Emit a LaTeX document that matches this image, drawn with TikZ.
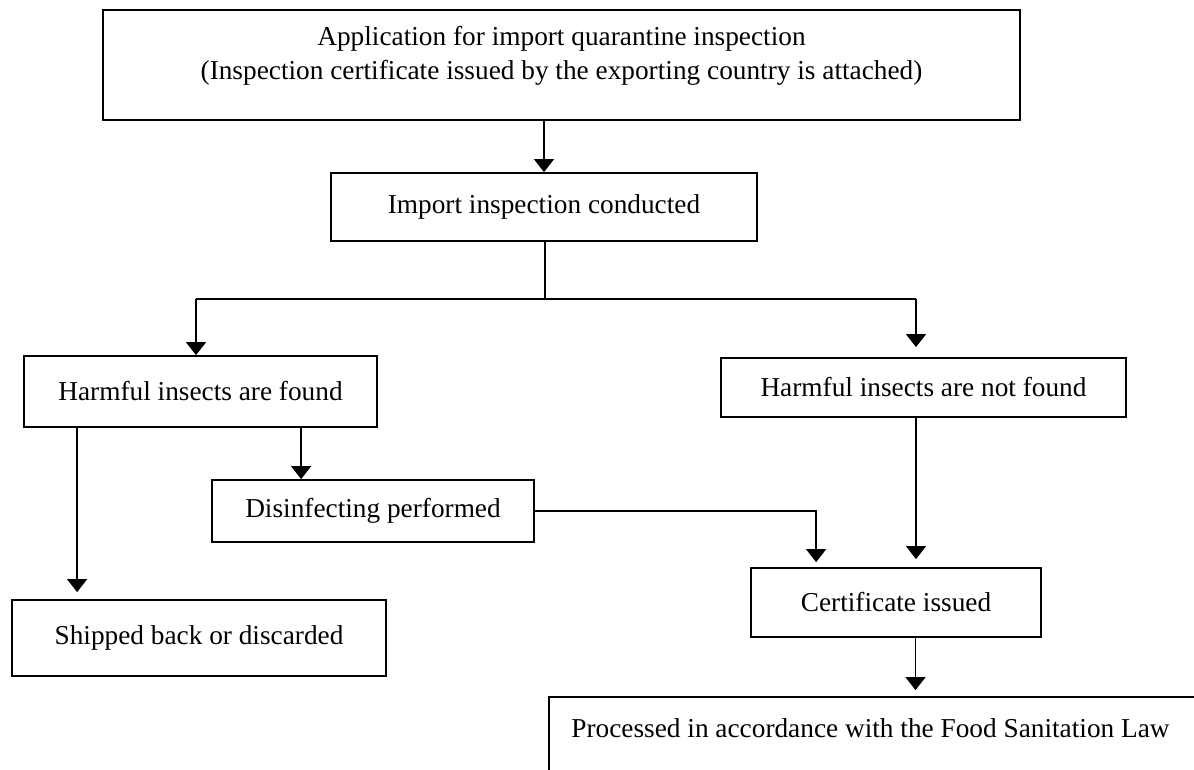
\documentclass[tikz,border=0pt]{standalone}
\usepackage{fontspec}
\setmainfont{Liberation Serif}
\usetikzlibrary{arrows.meta,calc}
\begin{document}
\begin{tikzpicture}[x=1pt,y=-1pt,
  txt/.style={inner sep=0pt, font=\fontsize{27.3}{34}\selectfont},
  box/.style={txt, draw, line width=1.8pt},
  conn/.style={line width=1.3pt},
  arr/.style={conn, -{Triangle[width=20pt,length=13pt]}}
]
\useasboundingbox (0,0) rectangle (1194,769);
\clip (0,0) rectangle (1194,769);
\fill[white] (0,0) rectangle (1194,769);

\node[box, minimum width=917pt, minimum height=110pt] (app) at (561.5,65)
  {\raisebox{0pt}[\height][\dimexpr\depth+18pt\relax]{\begin{tabular}{@{}c@{}}Application for import quarantine inspection\\(Inspection certificate issued by the exporting country is attached)\end{tabular}}};
\node[box, minimum width=426pt, minimum height=68pt] (conducted) at (544,207) {Import inspection conducted};
\node[box, minimum width=353pt, minimum height=71pt] (found) at (200.5,391.5) {Harmful insects are found};
\node[box, minimum width=405pt, minimum height=59pt] (notfound) at (923.5,387.5) {Harmful insects are not found};
\node[box, minimum width=322pt, minimum height=62pt] (disinf) at (373,511) {Disinfecting performed};
\node[box, minimum width=374pt, minimum height=76pt] (shipped) at (199,638) {Shipped back or discarded};
\node[box, minimum width=290pt, minimum height=69pt] (cert) at (896,602.5) {Certificate issued};
\node[box, minimum width=700pt, minimum height=120pt] (final) at (899,757) {};
\node[txt] (finaltext) at (870.5,728) {Processed in accordance with the Food Sanitation Law};

\coordinate (split) at (545,299);
\coordinate (sl) at (196,299);
\coordinate (sr) at (916,299);

\draw[arr] (app.south -| conducted.north) -- (conducted.north);
\draw[conn] (conducted.south -| split) -- (split);
\draw[conn] (sl) -- (sr);
\draw[arr] (sl) -- (sl |- found.north);
\draw[arr, shorten >=10pt] (sr) -- (sr |- notfound.north);
\draw[arr, shorten >=7pt] ([xshift=54pt]found.south west) -- ([xshift=54pt]found.south west |- shipped.north);
\draw[arr] ([xshift=278pt]found.south west) -- ([xshift=278pt]found.south west |- disinf.north);
\draw[arr, shorten >=5pt] (disinf.east) -| ([xshift=66pt]cert.north west);
\draw[arr, shorten >=8pt] ([xshift=-7.5pt]notfound.south) -- ([xshift=-7.5pt]notfound.south |- cert.north);
\draw[arr, shorten >=6pt] ([xshift=19.5pt]cert.south) -- ([xshift=19.5pt]cert.south |- final.north);
\end{tikzpicture}
\end{document}
